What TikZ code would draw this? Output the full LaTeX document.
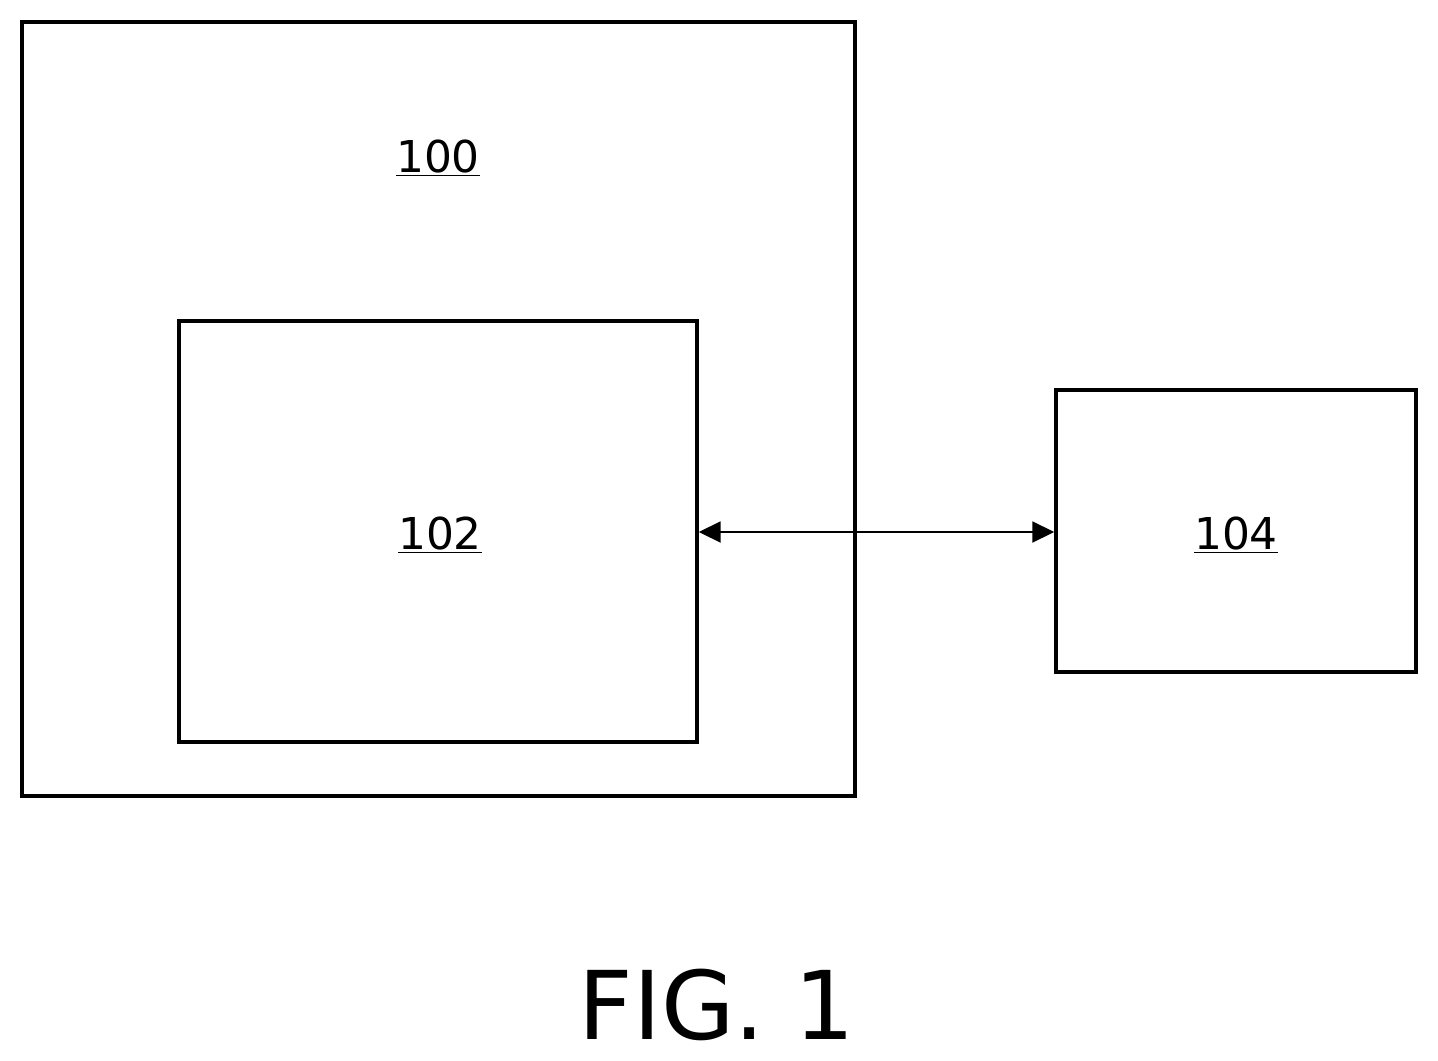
\documentclass[tikz,border=0pt]{standalone}
\usepackage{fontspec}
\setmainfont{DejaVu Sans}
\usetikzlibrary{arrows.meta}

\begin{document}
\begin{tikzpicture}[x=0.02cm, y=-0.02cm,
    box/.style={rectangle, draw, line width=2pt, inner sep=0pt},
    label/.style={font=\fontsize{25}{30}\selectfont}]
    \useasboundingbox (0,0) rectangle (1438,1061);
    % Boxes
    \node [box, minimum width=16.66cm, minimum height=15.48cm] (outer) at (438.5,409) {};
    \node [box, minimum width=10.36cm, minimum height=8.42cm] (inner) at (438,531.5) {};
    \node [box, minimum width=7.2cm, minimum height=5.64cm] (ext) at (1236,531) {};

    % Labels
    \node [label] (lblouter) at (438,158) {\underline{100}};
    \node [label] (lblinner) at (440,535) {\underline{102}};
    \node [label] (lblext) at (1236,535) {\underline{104}};

    % Arrow
    \draw [line width=1.1pt, {Triangle[length=4.4mm, width=4.2mm]}-{Triangle[length=4.4mm, width=4.2mm]}]
        (inner.east |- 0,532) -- (ext.west |- 0,532);

    % Caption
    \node [font=\fontsize{54}{60}\selectfont] (caption) at (717,1005) {FIG. 1};
\end{tikzpicture}
\end{document}
